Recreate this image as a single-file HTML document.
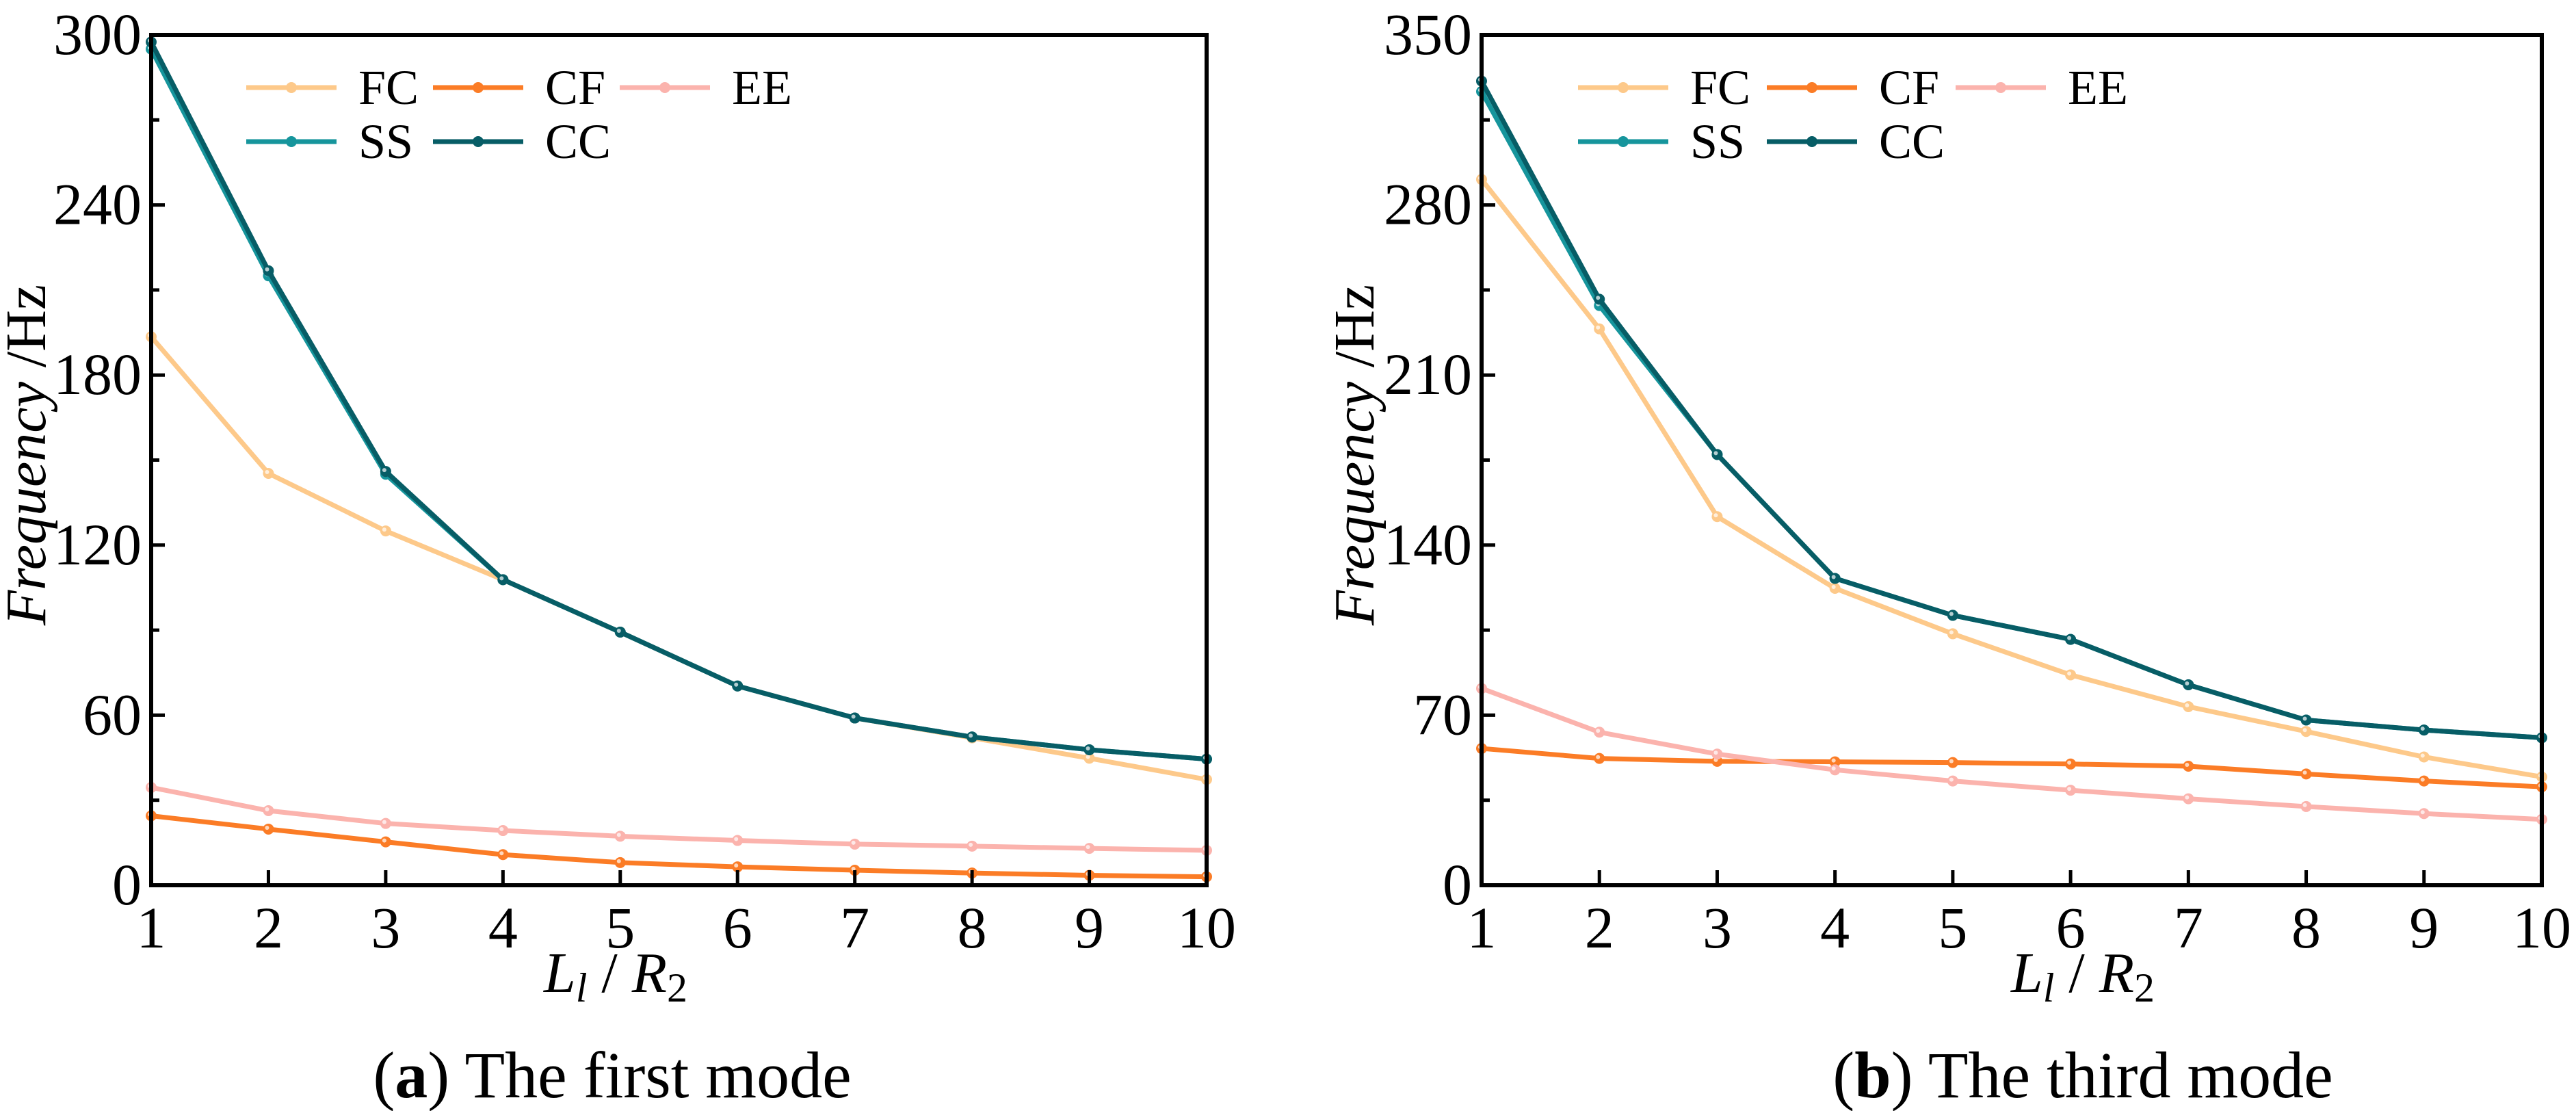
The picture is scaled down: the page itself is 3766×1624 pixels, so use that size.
<!DOCTYPE html>
<html><head><meta charset="utf-8"><style>
html,body{margin:0;padding:0;background:#fff;}
svg{display:block;font-family:"Liberation Serif",serif;}
</style></head><body>
<svg id="fig" width="3766" height="1624" viewBox="0 0 3766 1624" xmlns="http://www.w3.org/2000/svg"></svg>
<script>
const xCats = [1,2,3,4,5,6,7,8,9,10];
const seriesNames = ["FC","CF","EE","SS","CC"];
const seriesColors = ["#fdc98a","#fb7c26","#fbb3ad","#16959c","#075d66"];
// Panel a: first mode
const aFC = [193.5,145.3,125,107.8,89.3,70.3,59,52,44.8,37.3];
const aCF = [24.5,19.8,15.3,10.8,8,6.5,5.3,4.3,3.5,3];
const aEE = [34.5,26.3,21.8,19.3,17.3,15.8,14.5,13.8,13,12.3];
const aSS = [295,215,145,107.8,89.3,70.3,59,52.3,47.8,44.5];
const aCC = [297.5,216.8,146,107.8,89.3,70.3,59,52.3,47.8,44.5];
const aYTicks = [0,60,120,180,240,300];
// Panel b: third mode
const bFC = [290.5,229,151.7,122.2,103.5,86.6,73.5,63.3,52.8,44.6];
const bCF = [56.3,52.2,51,50.8,50.5,49.9,49,45.8,42.9,40.5];
const bEE = [81,63,54,47.5,42.9,39.1,35.6,32.4,29.5,27.1];
const bSS = [326.7,238.6,177.3,126.3,111.1,101.2,82.5,68,63.9,60.7];
const bCC = [331,241.2,177.3,126.3,111.1,101.2,82.5,68,63.9,60.7];
const bYTicks = [0,70,140,210,280,350];

const NS="http://www.w3.org/2000/svg";
const svg=document.getElementById('fig');
function mk(tag,attrs,parent){const e=document.createElementNS(NS,tag);for(const k in attrs)e.setAttribute(k,attrs[k]);(parent||svg).appendChild(e);return e;}

function panel(opt){
  const g=mk('g',{});
  
  
  const L=opt.left,R=opt.right,T=51,B=1294;
  const yMax=opt.yTicks[opt.yTicks.length-1];
  const xs=v=>L+(v-1)/(9)*(R-L);
  const ys=v=>B-v/yMax*(B-T);
  const data=opt.data;
  [0,1,2,3,4].forEach(i=>{
    const sg=mk('g',{},g);
    
    
    const pts=xCats.map((c,j)=>xs(c)+','+ys(data[i][j])).join(' ');
    mk('polyline',{points:pts,fill:'none',stroke:seriesColors[i],'stroke-width':7,'stroke-linejoin':'round'},sg);
    xCats.forEach((c,j)=>{
      const p=mk('circle',{cx:xs(c),cy:ys(data[i][j]),r:8,fill:seriesColors[i]},sg);
      
      
      mk('circle',{cx:xs(c)-2,cy:ys(data[i][j])-2,r:3,fill:'#fff','fill-opacity':0.7},sg);
    });
  });
  const fr=mk('rect',{x:L,y:T,width:R-L,height:B-T,fill:'none',stroke:'#000','stroke-width':6},g);
  
  
  const yt=mk('g',{},g);
  
  
  opt.yTicks.forEach((v,k)=>{
    mk('line',{x1:L,x2:L+20,y1:ys(v),y2:ys(v),stroke:'#000','stroke-width':5},yt);
    if(k<opt.yTicks.length-1){const m=(v+opt.yTicks[k+1])/2;mk('line',{x1:L,x2:L+12,y1:ys(m),y2:ys(m),stroke:'#000','stroke-width':5},yt);}
    const t=mk('text',{x:L-14,y:ys(v)+28,'text-anchor':'end','font-size':86},yt);t.textContent=v;
  });
  const xt=mk('g',{},g);
  
  
  xCats.forEach(c=>{
    mk('line',{x1:xs(c),x2:xs(c),y1:B,y2:B-22,stroke:'#000','stroke-width':5},xt);
    const t=mk('text',{x:xs(c),y:1385,'text-anchor':'middle','font-size':86},xt);t.textContent=c;
  });
  const xtl=mk('text',{x:opt.xTitleX,y:1450,'text-anchor':'middle','font-size':84},g);
  
  
  xtl.innerHTML='<tspan font-style="italic">L</tspan><tspan font-style="italic" font-size="60" dy="14">l</tspan><tspan dy="-14"> / </tspan><tspan font-style="italic">R</tspan><tspan font-size="60" dy="14">2</tspan>';
  const ytl=mk('text',{x:0,y:0,'text-anchor':'middle','font-size':84,transform:`translate(${opt.yTitleX},665) rotate(-90)`},g);
  
  
  ytl.innerHTML='<tspan font-style="italic">Frequency</tspan> /Hz';
  const lg=mk('g',{},g);
  
  
  const pos=[[0,0],[1,0],[2,0],[0,1],[1,1]];
  pos.forEach((p,i)=>{
    const x0=opt.legX+p[0]*opt.legDX, y0=128+p[1]*79;
    const e=mk('g',{},lg);
    
    
    mk('line',{x1:x0,x2:x0+132,y1:y0,y2:y0,stroke:seriesColors[i],'stroke-width':7},e);
    mk('circle',{cx:x0+66,cy:y0,r:8,fill:seriesColors[i]},e);
    const t=mk('text',{x:x0+164,y:y0+24,'font-size':72},e);t.textContent=seriesNames[i];
  });
  const cap=mk('text',{x:opt.capX,y:1604,'text-anchor':'middle','font-size':96},g);
  
  
  cap.innerHTML='(<tspan font-weight="bold">'+opt.letter+'</tspan>) '+opt.caption;
}
panel({id:'panel-a-first-mode',left:221,right:1764,yTicks:aYTicks,data:[aFC,aCF,aEE,aSS,aCC],
  xTitleX:900,yTitleX:66,legX:360,legDX:273,capX:895,letter:'a',caption:'The first mode'});
panel({id:'panel-b-third-mode',left:2166,right:3716,yTicks:bYTicks,data:[bFC,bCF,bEE,bSS,bCC],
  xTitleX:3045,yTitleX:2008,legX:2307,legDX:276,capX:3045,letter:'b',caption:'The third mode'});
</script>
</body></html>
